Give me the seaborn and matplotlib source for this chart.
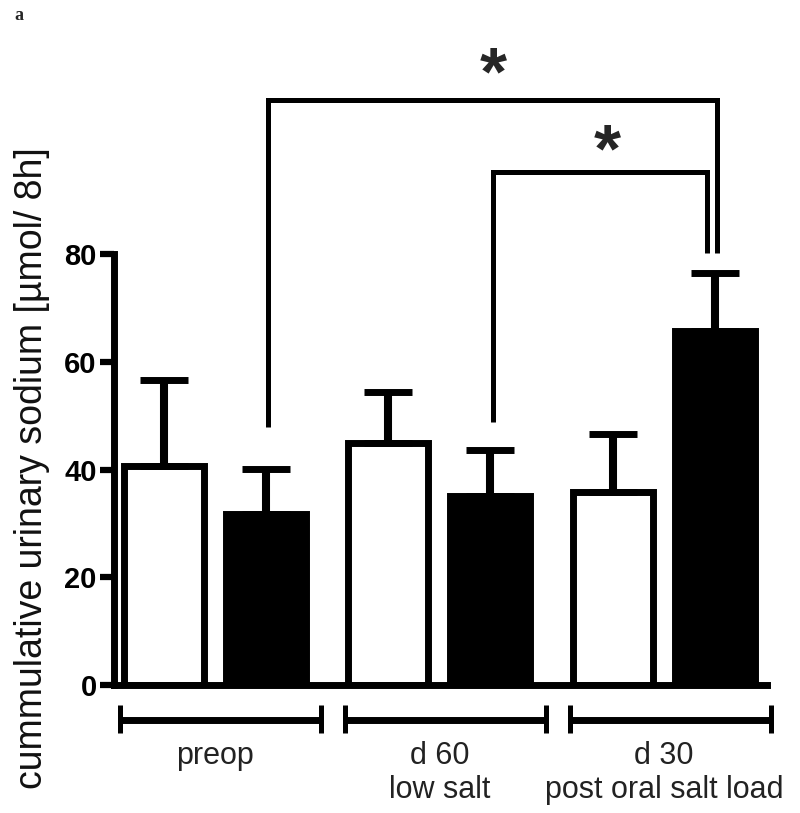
import numpy as np
import pandas as pd
import matplotlib
matplotlib.use("Agg")
import matplotlib.pyplot as plt
import seaborn as sns

# ---------------- data ----------------
groups = ["preop", "d 60\nlow salt", "d 30\npost oral salt load"]
conditions = ["open", "filled"]
open_means = [40.6, 45.0, 35.9]
open_err = [16.0, 9.3, 10.7]
filled_means = [31.7, 35.0, 65.8]
filled_err = [8.4, 8.6, 10.6]
y_ticks = [0, 20, 40, 60, 80]
y_label = "cummulative urinary sodium [µmol/ 8h]"
star_label = "*"
panel_label = "a"

# significance comparisons: (bar index left, bar index right, bracket height, left leg end, right leg end)
comp_left = [1, 3]
comp_right = [5, 5]
comp_height = [108.6, 95.2]
comp_left_end = [47.9, 48.8]
comp_right_end = [80.2, 80.2]
comp_star_y = [115.6, 101.2]
comp_star_x = [1.239, 1.746]

# ---------------- style ----------------
sns.set_style("ticks")
plt.rcParams["font.family"] = ["Liberation Sans", "DejaVu Sans"]

fig = plt.figure(figsize=(8.0, 8.13), dpi=100)
ax = fig.add_axes([0.1419, 0.15744, 0.8169, 0.7952])

df = pd.DataFrame({
    "group": groups * 2,
    "cond": [conditions[0]] * 3 + [conditions[1]] * 3,
    "value": open_means + filled_means,
})

sns.barplot(data=df, x="group", y="value", hue="cond", order=groups,
            hue_order=conditions, palette=["white", "black"], saturation=1,
            width=0.908, gap=0.216, edgecolor="black", linewidth=5,
            errorbar=None, legend=False, ax=ax, zorder=2)

# bar centres from the drawn patches
bars = sorted([p for p in ax.patches if p.get_width() > 0], key=lambda p: p.get_x())
xc = [p.get_x() + p.get_width() / 2 for p in bars]
means = [v for pair in zip(open_means, filled_means) for v in pair]
errs = [v for pair in zip(open_err, filled_err) for v in pair]

ax.errorbar(xc, means, yerr=[np.zeros(len(errs)), errs], fmt="none",
            ecolor="black", elinewidth=5.8, capsize=17, capthick=5, zorder=3)

# significance brackets
leg_offsets_left = [0.01, 0.01]
leg_offsets_right = [0.01, -0.035]
for i in range(len(comp_left)):
    xl = xc[comp_left[i]] + leg_offsets_left[i]
    xr = xc[comp_right[i]] + leg_offsets_right[i]
    h = comp_height[i]
    ax.plot([xl, xl, xr, xr], [comp_left_end[i], h, h, comp_right_end[i]],
            color="black", lw=3.6, clip_on=False, solid_joinstyle="miter",
            solid_capstyle="butt", zorder=4)
    ax.annotate(star_label, xy=(comp_star_x[i], comp_star_y[i]),
                xytext=(0, -23), textcoords="offset points",
                ha="center", va="baseline", fontsize=50, fontweight="bold",
                annotation_clip=False)

# group brackets under x axis
br_left, br_right, br_y, br_tick_lo, br_tick_hi = -0.42, 0.475, -6.5, -8.9, -3.7
for g in range(len(groups)):
    ax.plot([g + br_left, g + br_right], [br_y, br_y], color="black", lw=5,
            clip_on=False, solid_capstyle="butt")
    for xe in (g + br_left, g + br_right):
        ax.plot([xe, xe], [br_tick_lo, br_tick_hi], color="black", lw=3.6,
                clip_on=False, solid_capstyle="butt")

# axes styling
ax.set_xlim(-0.451, 2.459)
ax.set_ylim(0, 120)
ax.set_yticks(y_ticks)
ax.spines["left"].set_bounds(0, 80)
for s in ("top", "right"):
    ax.spines[s].set_visible(False)
for s in ("left", "bottom"):
    ax.spines[s].set_linewidth(5)
    ax.spines[s].set_color("black")
ax.tick_params(axis="y", length=10, width=4.5, labelsize=21, pad=2, colors="black")
for lab in ax.get_yticklabels():
    lab.set_fontweight("bold")
ax.tick_params(axis="x", length=0, labelsize=22, pad=40, labelcolor="#222222")
ax.set_xlabel("")
ax.set_ylabel("")

fig.text(32 / 800, 1 - 468.5 / 813, y_label, rotation=90, ha="center",
         va="center", fontsize=27, color="#111111")
fig.text(14 / 800, 1 - 20 / 813, panel_label, fontsize=13, fontweight="bold",
         family=["Liberation Serif", "DejaVu Serif"], ha="left", va="baseline")

fig.savefig("out.png", dpi=100)
